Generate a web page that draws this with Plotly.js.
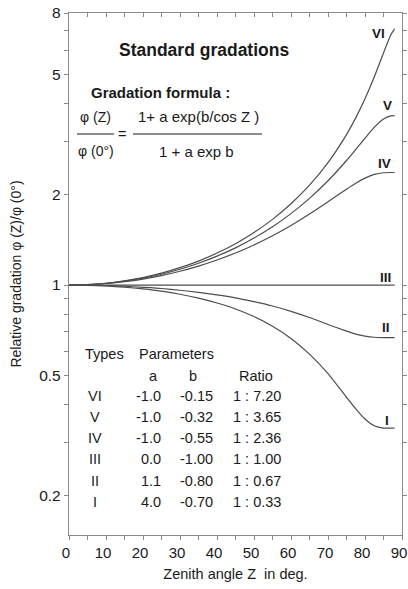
<!DOCTYPE html>
<html>
<head>
<meta charset="utf-8">
<script src="https://cdn.plot.ly/plotly-3.0.1.min.js"></script>
<style>html,body{margin:0;padding:0;background:#fff}#chart{width:408px;height:589px}</style>
</head>
<body>
<div id="chart"></div>
<script>
// Zenith angle (deg)
const zenith = [0,5,10,15,20,25,30,35,40,45,50,55,60,65,70,75,77.5,80,82.5,85,87,88];
// Relative gradation values
const typeVI  = [1.000,1.004,1.014,1.033,1.059,1.095,1.142,1.201,1.277,1.372,1.494,1.652,1.861,2.145,2.549,3.158,3.589,4.153,4.904,5.895,6.771,7.082];
const typeV   = [1.000,1.003,1.013,1.030,1.054,1.086,1.128,1.181,1.247,1.329,1.432,1.561,1.726,1.939,2.219,2.591,2.819,3.073,3.337,3.559,3.644,3.651];
const typeIV  = [1.000,1.003,1.012,1.026,1.047,1.075,1.111,1.156,1.211,1.278,1.359,1.458,1.577,1.720,1.890,2.081,2.178,2.264,2.329,2.359,2.364,2.364];
const typeIII = [1,1,1,1,1,1,1,1,1,1,1,1,1,1,1,1,1,1,1,1,1,1];
const typeII  = [1.000,0.999,0.996,0.991,0.983,0.974,0.961,0.946,0.928,0.907,0.881,0.852,0.818,0.780,0.740,0.703,0.687,0.677,0.671,0.669,0.669,0.669];
const typeI   = [1.000,0.998,0.993,0.984,0.971,0.954,0.932,0.905,0.872,0.833,0.786,0.730,0.665,0.590,0.508,0.424,0.388,0.359,0.341,0.335,0.335,0.335];

// Table contents
const typeNames = ['VI','V','IV','III','II','I'];
const paramA = ['-1.0','-1.0','-1.0','0.0','1.1','4.0'];
const paramB = ['-0.15','-0.32','-0.55','-1.00','-0.80','-0.70'];
const ratios = ['1 : 7.20','1 : 3.65','1 : 2.36','1 : 1.00','1 : 0.67','1 : 0.33'];

// Axis ticks
const yTickVals = [0.2,0.5,1,2,5,8];
const yTickText = ['0.2','0.5','1','2','5','8'];
const yMinorVals = [0.3,0.4,0.6,0.7,0.8,0.9,3,4,6,7];
const xTickVals = [0,10,20,30,40,50,60,70,80,90];
const xTickText = ['0','10','20','30','40','50','60','70','80','90'];
const xMinorVals = [5,15,25,35,45,55,65,75,85];
const xAllTicks = [0,5,10,15,20,25,30,35,40,45,50,55,60,65,70,75,80,85,90];

const L = 69, R = 402, T = 13, B = 535;
const fx = p => (p - L) / (R - L);
const fy = p => (B - p) / (B - T);

const FONT = '"Liberation Sans", Arial, sans-serif';
const TXT = '#1a1a1a';
const LINE = '#4d4d4d';
const AX = '#8a8a8a';

const series = [typeVI, typeV, typeIV, typeIII, typeII, typeI];
const traces = series.map((s, i) => ({
  x: zenith, y: s, type: 'scatter', mode: 'lines',
  line: {color: LINE, width: 1.2, shape: 'spline', smoothing: 0.6},
  hoverinfo: 'skip', showlegend: false, name: typeNames[i],
  xaxis: i === 3 ? 'x2' : 'x'
}));

const ann = [];
function txt(text, px, py, size, opts) {
  ann.push(Object.assign({
    text: text, x: fx(px), y: fy(py), xref: 'paper', yref: 'paper',
    showarrow: false, xanchor: 'center', yanchor: 'middle',
    font: {family: FONT, size: size, color: TXT}
  }, opts || {}));
}

txt('<b>Standard gradations</b>', 204, 50, 17.5);
txt('<b>Gradation formula :</b>', 160, 93, 15);
txt('φ (Z)', 95.5, 117, 14);
txt('φ (0°)', 95.5, 151, 14);
txt('=', 122, 134, 14.5);
txt('1+ a exp(b/cos Z )', 198, 116, 15);
txt('1 + a exp b', 196, 151, 15);

// curve labels
const labelPos = [[378,33],[387,105],[384,163],[385,277],[385.5,327],[387,420]];
typeNames.forEach((n, i) => txt('<b>' + n + '</b>', labelPos[i][0], labelPos[i][1], 13.5));

// table
txt('Types', 83, 354, 14.5, {xanchor: 'left'});
txt('Parameters', 137, 354, 14.5, {xanchor: 'left'});
txt('a', 153, 376, 14.5);
txt('b', 193, 376, 14.5);
txt('Ratio', 256, 376, 14.5);
const rowY = [396, 417, 438, 459, 481, 502];
typeNames.forEach((n, i) => {
  txt(n, 95, rowY[i], 14.5);
  txt(paramA[i], 163, rowY[i], 14.5, {xanchor: 'right'});
  txt(paramB[i], 215, rowY[i], 14.5, {xanchor: 'right'});
  txt(ratios[i], 231, rowY[i], 14.5, {xanchor: 'left'});
});

const shapes = [
  {type: 'line', xref: 'paper', yref: 'paper', x0: fx(77), x1: fx(114), y0: fy(134), y1: fy(134), line: {color: TXT, width: 1}},
  {type: 'line', xref: 'paper', yref: 'paper', x0: fx(133), x1: fx(262), y0: fy(134), y1: fy(134), line: {color: TXT, width: 1}}
];

const layout = {
  width: 408, height: 589,
  margin: {l: L, r: 408 - R, t: T, b: 589 - B, pad: 0},
  paper_bgcolor: '#fff', plot_bgcolor: '#fff',
  font: {family: FONT, size: 15, color: TXT},
  showlegend: false,
  xaxis: {
    range: [0, 90], showgrid: false, zeroline: false,
    showline: true, linecolor: AX, linewidth: 1.2, mirror: true,
    tickmode: 'array', tickvals: xTickVals, ticktext: xTickText,
    ticks: 'outside', ticklen: 4, tickcolor: AX, tickwidth: 1,
    ticklabelshift: -3,
    minor: {tickmode: 'array', tickvals: xMinorVals, ticks: 'outside', ticklen: 4, tickcolor: AX, tickwidth: 1, showgrid: false},
    tickfont: {family: FONT, size: 15, color: TXT},
    title: {text: 'Zenith angle Z  in deg.', font: {family: FONT, size: 14.5, color: TXT}, standoff: 8}
  },
  xaxis2: {
    overlaying: 'x', side: 'top', anchor: 'y', range: [0, 90],
    showgrid: false, zeroline: false, showline: false, showticklabels: false,
    tickmode: 'array', tickvals: xAllTicks,
    ticks: 'inside', ticklen: 4, tickcolor: AX, tickwidth: 1
  },
  yaxis: {
    type: 'log', range: [Math.log10(0.148), Math.log10(8)],
    showgrid: false, zeroline: false,
    showline: true, linecolor: AX, linewidth: 1.2, mirror: 'ticks',
    tickmode: 'array', tickvals: yTickVals, ticktext: yTickText,
    ticks: 'outside', ticklen: 4, tickcolor: AX, tickwidth: 1,
    minor: {tickmode: 'array', tickvals: yMinorVals, ticks: 'outside', ticklen: 4, tickcolor: AX, tickwidth: 1, showgrid: false},
    tickfont: {family: FONT, size: 15.5, color: TXT},
    title: {text: 'Relative gradation φ (Z)/φ (0°)', font: {family: FONT, size: 14, color: TXT}, standoff: 14}
  },
  annotations: ann,
  shapes: shapes
};

Plotly.newPlot('chart', traces, layout, {staticPlot: true, displayModeBar: false});
</script>
</body>
</html>
